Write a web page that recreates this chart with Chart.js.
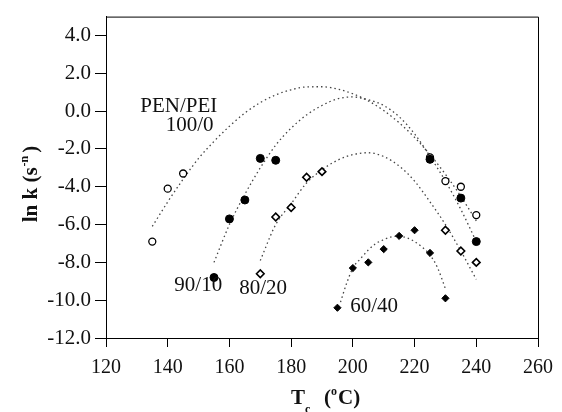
<!DOCTYPE html>
<html>
<head>
<meta charset="utf-8">
<script src="https://cdn.jsdelivr.net/npm/chart.js@4.4.0/dist/chart.umd.min.js"></script>
<style>
  html, body { margin: 0; padding: 0; background: #fff; }
  #wrap { width: 562px; height: 412px; position: relative; }
</style>
</head>
<body>
<div id="wrap"><canvas id="lnkChart"></canvas></div>
<script>
// measured points, ln k vs Tc
const tc100 = [135, 140, 145, 225, 230, 235, 240];
const lnk100 = [-6.9, -4.1, -3.3, -2.45, -3.7, -4.0, -5.5];
const tc90 = [155, 160, 165, 170, 175, 225, 235, 240];
const lnk90 = [-8.8, -5.7, -4.7, -2.5, -2.6, -2.55, -4.6, -6.9];
const tc80 = [170, 175, 180, 185, 190, 230, 235, 240];
const lnk80 = [-8.6, -5.6, -5.1, -3.5, -3.2, -6.3, -7.4, -8.0];
const tc60 = [195, 200, 205, 210, 215, 220, 225, 230];
const lnk60 = [-10.4, -8.3, -8.0, -7.3, -6.6, -6.3, -7.5, -9.9];

// dotted fit curves
const fitTc100 = [135, 140, 145, 150, 155, 160, 165, 170, 175, 180, 185, 190, 195, 200, 205, 210, 215, 220, 225, 230, 235, 240];
const fitLnk100 = [-6.1, -4.8, -3.6, -2.5, -1.6, -0.8, -0.1, 0.45, 0.86, 1.13, 1.28, 1.29, 1.17, 0.92, 0.54, 0.03, -0.62, -1.39, -2.3, -3.34, -4.51, -5.8];
const fitTc90 = [155, 160, 165, 170, 175, 180, 185, 190, 195, 200, 205, 210, 215, 220, 225, 230, 235, 240];
const fitLnk90 = [-8.0, -6.0, -4.4, -3.0, -1.8, -0.9, -0.2, 0.3, 0.65, 0.75, 0.6, 0.3, -0.3, -1.2, -2.4, -3.7, -5.2, -6.9];
const fitTc80 = [170, 175, 180, 185, 190, 195, 200, 205, 210, 215, 220, 225, 230, 235, 240];
const fitLnk80 = [-7.9, -6.0, -4.9, -3.8, -3.1, -2.6, -2.3, -2.2, -2.4, -2.9, -3.7, -4.8, -6.0, -7.4, -8.9];
const fitTc60 = [196, 198, 200, 202.5, 205, 207.5, 210, 212.5, 215, 217.5, 220, 222.5, 225, 227.5, 230];
const fitLnk60 = [-10.1, -9.1, -8.3, -7.8, -7.35, -7.0, -6.8, -6.65, -6.62, -6.7, -6.9, -7.2, -7.6, -8.3, -9.4];

const xTicks = [120, 140, 160, 180, 200, 220, 240, 260];
const yTicks = [-12, -10, -8, -6, -4, -2, 0, 2, 4];

const pts = (xs, ys) => xs.map((x, i) => ({ x: x, y: ys[i] }));

function marks(label, xs, ys, style, radius, fill, bw) {
  return {
    label: label,
    data: pts(xs, ys),
    showLine: false,
    pointStyle: style,
    pointRadius: radius,
    pointBackgroundColor: fill,
    pointBorderColor: '#000',
    pointBorderWidth: bw,
    order: 1
  };
}

function fit(label, xs, ys) {
  return {
    label: label,
    data: pts(xs, ys),
    showLine: true,
    borderColor: '#444',
    borderWidth: 1.3,
    borderDash: [1.5, 3],
    pointRadius: 0,
    cubicInterpolationMode: 'monotone',
    order: 2
  };
}

const serif = '"Liberation Serif", "Times New Roman", serif';

const decorations = {
  id: 'decorations',
  afterDraw(chart) {
    const { ctx, chartArea: a, scales: { x, y } } = chart;
    ctx.save();
    // top and right of the frame
    ctx.strokeStyle = '#000';
    ctx.lineWidth = 1;
    ctx.beginPath();
    ctx.moveTo(a.left, a.top + 0.5);
    ctx.lineTo(a.right + 0.5, a.top + 0.5);
    ctx.lineTo(a.right + 0.5, a.bottom);
    ctx.stroke();

    // curve labels
    ctx.fillStyle = '#111';
    ctx.font = '21px ' + serif;
    ctx.textAlign = 'center';
    ctx.textBaseline = 'alphabetic';
    ctx.fillText('PEN/PEI', x.getPixelForValue(143.6), y.getPixelForValue(-0.06));
    ctx.fillText('100/0', x.getPixelForValue(147.1), y.getPixelForValue(-1.05));
    ctx.fillText('90/10', x.getPixelForValue(149.9), y.getPixelForValue(-9.5));
    ctx.fillText('80/20', x.getPixelForValue(170.9), y.getPixelForValue(-9.68));
    ctx.fillText('60/40', x.getPixelForValue(206.9), y.getPixelForValue(-10.62));

    // x title: Tc (oC)
    ctx.textAlign = 'left';
    const bx = 291, by = 404;
    ctx.font = 'bold 21px ' + serif;
    ctx.fillText('T', bx, by);
    ctx.font = 'bold 12px ' + serif;
    ctx.fillText('c', bx + 14, by + 9);
    ctx.font = 'bold 21px ' + serif;
    ctx.fillText('(', bx + 33, by);
    ctx.font = 'bold 12px ' + serif;
    ctx.fillText('o', bx + 40, by - 9);
    ctx.font = 'bold 21px ' + serif;
    ctx.fillText('C)', bx + 47, by);

    // y title: ln k (s-n)
    ctx.translate(37, 184);
    ctx.rotate(-Math.PI / 2);
    ctx.font = 'bold 21px ' + serif;
    const main = 'ln k (s';
    const w1 = ctx.measureText(main).width;
    ctx.font = 'bold 12px ' + serif;
    const w2 = ctx.measureText('-n').width;
    ctx.font = 'bold 21px ' + serif;
    const w3 = ctx.measureText(')').width;
    let sx = -(w1 + w2 + w3 + 4) / 2;
    ctx.fillText(main, sx, 0);
    sx += w1 + 1;
    ctx.font = 'bold 12px ' + serif;
    ctx.fillText('-n', sx, -9);
    sx += w2 + 3;
    ctx.font = 'bold 21px ' + serif;
    ctx.fillText(')', sx, 0);
    ctx.restore();
  }
};

new Chart(document.getElementById('lnkChart'), {
  type: 'scatter',
  data: {
    datasets: [
      marks('90/10', tc90, lnk90, 'circle', 4, '#000', 1),
      marks('100/0', tc100, lnk100, 'circle', 3.5, '#fff', 1.3),
      marks('60/40', tc60, lnk60, 'rectRot', 3.6, '#000', 1),
      marks('80/20', tc80, lnk80, 'rectRot', 3.8, '#fff', 1.6),
      fit('fit 100/0', fitTc100, fitLnk100),
      fit('fit 90/10', fitTc90, fitLnk90),
      fit('fit 80/20', fitTc80, fitLnk80),
      fit('fit 60/40', fitTc60, fitLnk60)
    ]
  },
  options: {
    responsive: true,
    maintainAspectRatio: false,
    animation: false,
    layout: { padding: { top: 9, right: 23, left: 0, bottom: 0 } },
    plugins: {
      legend: { display: false },
      tooltip: { enabled: false }
    },
    scales: {
      x: {
        type: 'linear',
        min: 120,
        max: 260,
        afterBuildTicks: (s) => { s.ticks = xTicks.map(v => ({ value: v })); },
        afterFit: (s) => { s.height = 74; },
        border: { color: '#000', width: 1 },
        grid: { drawOnChartArea: false, color: '#000', tickLength: 9 },
        ticks: {
          color: '#111',
          padding: 9,
          font: { family: serif, size: 20 },
          maxRotation: 0
        }
      },
      y: {
        type: 'linear',
        min: -12,
        max: 5,
        afterBuildTicks: (s) => { s.ticks = yTicks.map(v => ({ value: v })); },
        afterFit: (s) => { s.width = 106; },
        border: { color: '#000', width: 1 },
        grid: { drawOnChartArea: false, color: '#000', tickLength: 11 },
        ticks: {
          color: '#111',
          padding: 4,
          font: { family: serif, size: 21 },
          callback: (v) => v.toFixed(1)
        }
      }
    }
  },
  plugins: [decorations]
});
</script>
</body>
</html>
